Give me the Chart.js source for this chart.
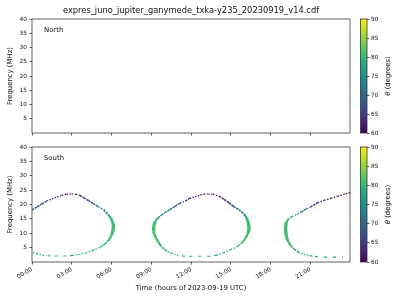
<!DOCTYPE html>
<html>
<head>
<meta charset="utf-8">
<script src="https://cdn.jsdelivr.net/npm/chart.js@4.4.0/dist/chart.umd.min.js"></script>
<style>
  body { margin: 0; background: #fff; }
  #page { position: relative; width: 400px; height: 300px; overflow: hidden; }
  canvas { position: absolute; }
</style>
</head>
<body>
<div id="page">
  <canvas id="north" width="352" height="140" style="left:0px;top:0px"></canvas>
  <canvas id="northbar" width="45" height="140" style="left:355px;top:0px"></canvas>
  <canvas id="south" width="352" height="160" style="left:0px;top:140px"></canvas>
  <canvas id="southbar" width="45" height="160" style="left:355px;top:140px"></canvas>
</div>
<script>
const fileName = 'expres_juno_jupiter_ganymede_txka-y235_20230919_v14.cdf';
const timeLabels = ['00:00', '03:00', '06:00', '09:00', '12:00', '15:00', '18:00', '21:00'];
const thetaMin = 60;
const thetaMax = 90;

// north hemisphere: nothing in this file
const northHours = [];
const northFreq = [];
const northTheta = [];

// south hemisphere, three arcs (hours, MHz, degrees)
const arc1Hours = [0.0, 0.4, 0.75, 1.1, 1.5, 1.9, 2.25, 2.6, 3.0, 3.3, 3.6, 3.9, 4.25, 4.6, 5.0, 5.4, 5.75, 5.95, 6.1, 6.15,
  6.1, 6.0, 5.8, 5.5, 5.1, 4.6, 4.1, 3.6, 3.1, 2.6, 1.4, 0.9, 0.4, 0.0];
const arc1Freq = [18.1, 19.2, 20.2, 21.2, 21.9, 22.6, 23.2, 23.6, 23.7, 23.6, 23.2, 22.4, 21.4, 20.4, 19.2, 18.2, 16.5, 15.3, 13.6, 12.4,
  10.9, 9.3, 7.7, 6.2, 5.0, 4.0, 3.25, 2.7, 2.3, 2.1, 2.1, 2.3, 2.8, 3.4];
const arc1Theta = [71, 70, 68, 67, 65, 64, 63, 62, 62, 62, 63, 65, 67, 70, 72, 74, 77, 79, 81, 81,
  81, 81, 81, 80, 80, 79, 79, 78, 78, 78, 78, 78, 78, 78];

const arc2Hours = [9.15, 9.18, 9.3, 9.5, 9.76, 10.0, 10.4, 10.8, 11.15, 11.55, 11.9, 12.3, 12.7, 12.95, 13.3, 13.65, 14.1, 14.5, 14.85, 15.2,
  15.6, 16.0, 16.2, 16.33, 16.38, 16.3, 16.12, 15.87, 15.5, 14.98, 14.47, 13.96, 13.45, 13.0, 11.55, 11.04, 10.53, 10.15, 9.76, 9.5,
  9.3, 9.15];
const arc2Freq = [10.6, 12.4, 14.2, 15.3, 16.3, 17.1, 18.25, 19.4, 20.4, 21.2, 22.1, 22.7, 23.3, 23.6, 23.65, 23.6, 22.9, 21.8, 20.6, 19.4,
  18.25, 16.7, 15.3, 13.6, 11.8, 10.0, 8.3, 6.8, 5.4, 4.3, 3.25, 2.4, 2.0, 2.0, 2.0, 2.3, 3.0, 3.8, 5.4, 7.1,
  8.9, 10.6];
const arc2Theta = [81, 81, 80, 78, 76, 75, 73, 70, 68, 66, 64, 63, 62, 61, 61, 61, 62, 64, 67, 70,
  73, 76, 79, 81, 81, 81, 81, 81, 80, 80, 79, 79, 78, 78, 78, 78, 79, 79, 80, 81,
  81, 81];

const arc3Hours = [23.99, 23.59, 23.09, 22.58, 22.08, 21.58, 21.03, 20.7, 20.32, 19.94, 19.62, 19.37, 19.19, 19.14, 19.14, 19.19, 19.32, 19.52, 19.77, 20.12,
  20.52, 20.95, 21.33, 22.03, 23.46];
const arc3Freq = [24.1, 23.6, 22.9, 22.2, 21.5, 20.7, 19.2, 18.5, 17.4, 16.5, 15.8, 15.1, 13.9, 12.4, 10.6, 8.9, 7.1, 5.7, 4.5, 3.4,
  2.7, 2.2, 1.96, 1.7, 1.7];
const arc3Theta = [61, 61, 62, 62, 63, 64, 68, 71, 74, 76, 78, 80, 81, 81, 81, 81, 81, 80, 80, 79,
  79, 78, 78, 77, 77];

const viridisStops = ['#440154', '#482475', '#414487', '#355f8d', '#2a788e', '#21918c',
  '#22a884', '#44bf70', '#7ad151', '#bddf26', '#fde725'];

const FONT = 'DejaVu Sans';
const INK = '#111';
const TICK_SIZE = 5.8;

function hexRgb(h) {
  return [1, 3, 5].map(i => parseInt(h.slice(i, i + 2), 16));
}

function viridis(theta) {
  if (!Number.isFinite(theta)) theta = thetaMin;
  let t = (theta - thetaMin) / (thetaMax - thetaMin);
  t = Math.max(0, Math.min(1, t)) * (viridisStops.length - 1);
  const i = Math.min(Math.floor(t), viridisStops.length - 2);
  const f = t - i;
  const a = hexRgb(viridisStops[i]), b = hexRgb(viridisStops[i + 1]);
  const c = a.map((v, k) => Math.round(v + (b[k] - v) * f));
  return `rgb(${c[0]},${c[1]},${c[2]})`;
}

function slopeOf(c) {
  const dx = Math.abs(c.p1.x - c.p0.x);
  const dy = Math.abs(c.p1.y - c.p0.y);
  return dy / (dx + 0.5);
}

function arcDataset(hours, freq, theta) {
  return {
    data: hours.map((h, i) => ({ x: h, y: freq[i] })),
    showLine: true,
    pointRadius: 0,
    borderWidth: 1.2,
    borderColor: viridis(theta[0]),
    borderCapStyle: 'butt',
    borderJoinStyle: 'round',
    segment: {
      borderColor: c => viridis((theta[c.p0DataIndex] + theta[c.p1DataIndex]) / 2),
      borderWidth: c => Math.min(3.4, 1.1 + slopeOf(c) * 0.8),
      borderDash: c => {
        // lowest channels are only sampled now and then
        if (freq[c.p0DataIndex] < 2.5 && freq[c.p1DataIndex] < 2.5) return [3, 6];
        const s = slopeOf(c);
        if (s < 0.5) return [1.5, 1.5];
        if (s < 1) return [2.5, 0.8];
        return [];
      },
    },
  };
}

const framePlugin = {
  id: 'frame',
  afterDatasetsDraw(chart) {
    const { ctx, chartArea: a } = chart;
    ctx.save();
    ctx.strokeStyle = '#3a3a3a';
    ctx.lineWidth = 0.8;
    ctx.strokeRect(a.left, a.top, a.right - a.left, a.bottom - a.top);
    ctx.restore();
  },
};

function cornerLabel(text) {
  return {
    id: 'corner',
    afterDraw(chart) {
      const { ctx, chartArea: a } = chart;
      ctx.save();
      ctx.font = `6.9px "${FONT}"`;
      ctx.fillStyle = INK;
      ctx.textBaseline = 'middle';
      ctx.fillText(text, a.left + 12, a.top + 11);
      ctx.restore();
    },
  };
}

const titlePlugin = {
  id: 'fileTitle',
  afterDraw(chart) {
    const { ctx, chartArea: a } = chart;
    ctx.save();
    ctx.font = `8.3px "${FONT}"`;
    ctx.fillStyle = INK;
    ctx.textAlign = 'center';
    ctx.textBaseline = 'middle';
    ctx.fillText(fileName, (a.left + a.right) / 2, 11);
    ctx.restore();
  },
};

function panelOptions(padTop, xHeight, showTime) {
  return {
    animation: false,
    responsive: false,
    layout: { padding: { top: padTop, right: 2, bottom: 0, left: 0 } },
    plugins: { legend: { display: false }, tooltip: { enabled: false } },
    scales: {
      x: {
        type: 'linear',
        min: 0,
        max: 23.99,
        afterFit: s => { s.height = xHeight; },
        afterBuildTicks: s => { s.ticks = s.ticks.filter(t => t.value % 3 === 0 && t.value <= 21); },
        ticks: {
          stepSize: 3,
          autoSkip: false,
          minRotation: showTime ? 30 : 0,
          maxRotation: showTime ? 30 : 0,
          padding: 1.5,
          font: { family: FONT, size: TICK_SIZE },
          color: INK,
          callback: v => showTime ? (timeLabels[v / 3] || '') : '',
        },
        grid: { drawOnChartArea: false, tickLength: 2.5, tickColor: '#333', tickWidth: 0.8 },
        border: { display: false },
        title: {
          display: showTime,
          text: 'Time (hours of 2023-09-19 UTC)',
          font: { family: FONT, size: 6.9 },
          color: INK,
          padding: { top: 0, bottom: 7.5 },
        },
      },
      y: {
        min: 0,
        max: 40,
        afterFit: s => { s.width = 32; },
        afterBuildTicks: s => { s.ticks = s.ticks.filter(t => t.value > 0); },
        ticks: { stepSize: 5, padding: 2.5, font: { family: FONT, size: TICK_SIZE }, color: INK },
        grid: { drawOnChartArea: false, tickLength: 2.5, tickColor: '#333', tickWidth: 0.8 },
        border: { display: false },
        title: {
          display: true,
          text: 'Frequency (MHz)',
          font: { family: FONT, size: 6.9 },
          color: INK,
          padding: { top: 6, bottom: 0 },
        },
      },
    },
  };
}

const colorbarPlugin = {
  id: 'colorbar',
  afterDraw(chart) {
    const { ctx, chartArea: a } = chart;
    ctx.save();
    ctx.strokeStyle = '#333';
    ctx.lineWidth = 0.8;
    ctx.strokeRect(a.left, a.top, a.right - a.left, a.bottom - a.top);
    ctx.translate(chart.width - 12, (a.top + a.bottom) / 2);
    ctx.rotate(-Math.PI / 2);
    ctx.fillStyle = INK;
    ctx.textBaseline = 'middle';
    ctx.font = `italic 6.9px "${FONT}"`;
    const sym = 'θ';
    const symW = ctx.measureText(sym).width;
    ctx.font = `6.9px "${FONT}"`;
    const rest = ' (degrees)';
    const restW = ctx.measureText(rest).width;
    const x0 = -(symW + restW) / 2;
    ctx.font = `italic 6.9px "${FONT}"`;
    ctx.fillText(sym, x0, 0);
    ctx.font = `6.9px "${FONT}"`;
    ctx.fillText(rest, x0 + symW, 0);
    ctx.restore();
  },
};

function colorbar(id, padTop, padBottom) {
  return new Chart(document.getElementById(id), {
    type: 'bar',
    data: {
      labels: ['θ'],
      datasets: [{
        data: [[thetaMin, thetaMax]],
        barPercentage: 1,
        categoryPercentage: 1,
        borderWidth: 0,
        backgroundColor: c => {
          const a = c.chart.chartArea;
          if (!a) return viridisStops[5];
          const g = c.chart.ctx.createLinearGradient(0, a.bottom, 0, a.top);
          viridisStops.forEach((col, i) => g.addColorStop(i / (viridisStops.length - 1), col));
          return g;
        },
      }],
    },
    options: {
      animation: false,
      responsive: false,
      layout: { padding: { top: padTop, bottom: padBottom, left: 5.5, right: 0 } },
      plugins: { legend: { display: false }, tooltip: { enabled: false } },
      scales: {
        x: { display: false },
        y: {
          position: 'right',
          min: thetaMin,
          max: thetaMax,
          afterFit: s => { s.width = 33; },
          ticks: { stepSize: 5, padding: 1.5, font: { family: FONT, size: TICK_SIZE }, color: INK },
          grid: { drawOnChartArea: false, tickLength: 2.5, tickColor: '#333', tickWidth: 0.8 },
          border: { display: false },
        },
      },
    },
    plugins: [colorbarPlugin],
  });
}

new Chart(document.getElementById('north'), {
  type: 'scatter',
  data: { datasets: [arcDataset(northHours, northFreq, northTheta)] },
  options: panelOptions(19, 7, false),
  plugins: [framePlugin, cornerLabel('North'), titlePlugin],
});

new Chart(document.getElementById('south'), {
  type: 'scatter',
  data: {
    datasets: [
      arcDataset(arc1Hours, arc1Freq, arc1Theta),
      arcDataset(arc2Hours, arc2Freq, arc2Theta),
      arcDataset(arc3Hours, arc3Freq, arc3Theta),
    ],
  },
  options: panelOptions(7, 38, true),
  plugins: [framePlugin, cornerLabel('South')],
});

colorbar('northbar', 19, 7);
colorbar('southbar', 7, 38);
</script>
</body>
</html>
